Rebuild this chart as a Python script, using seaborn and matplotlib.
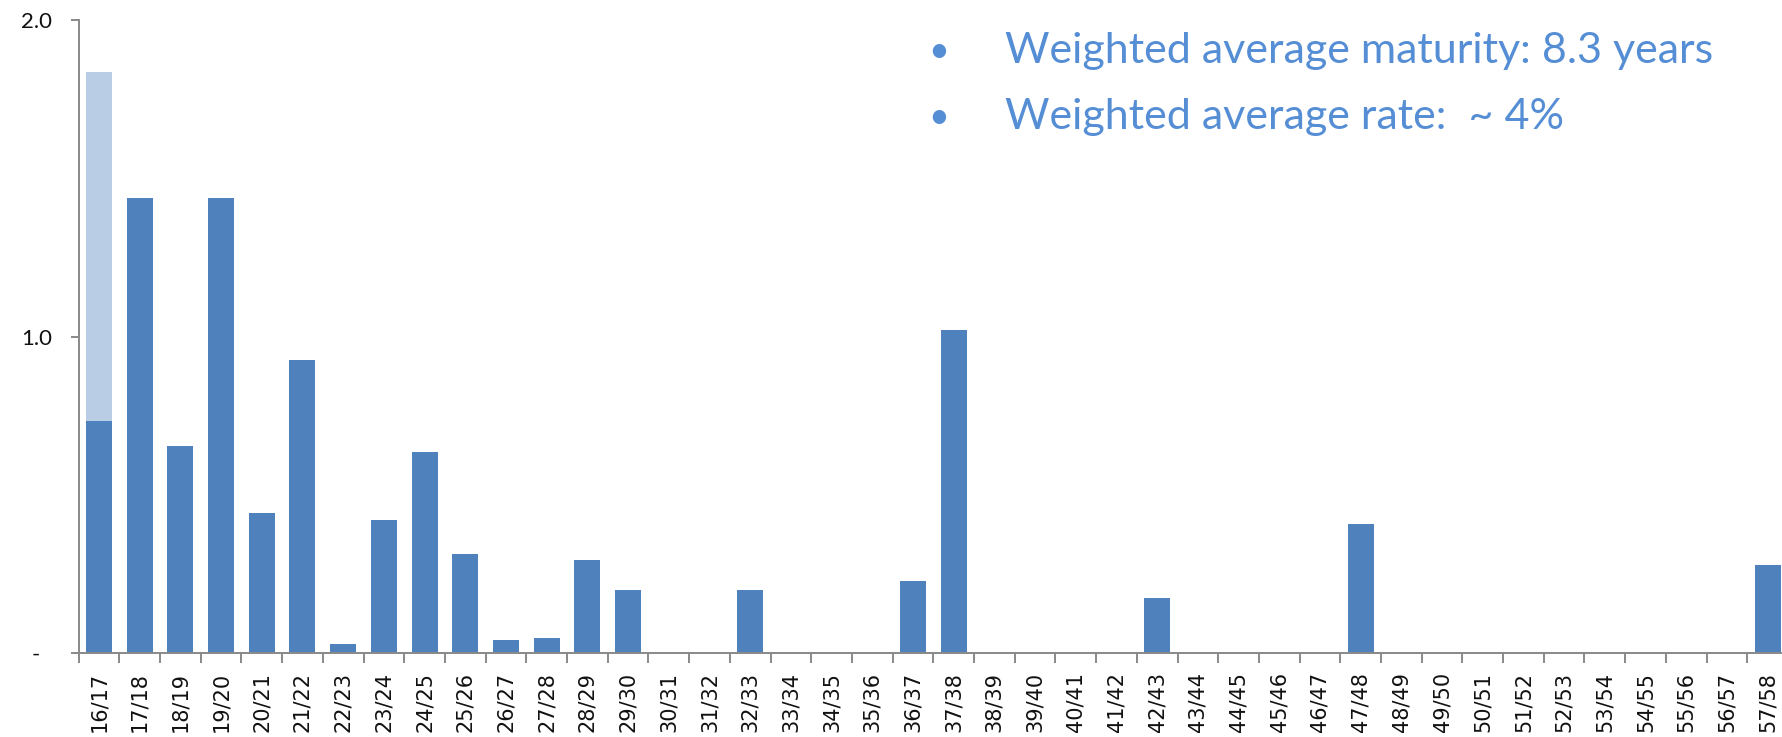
import matplotlib
matplotlib.use("Agg")
import matplotlib.pyplot as plt
import seaborn as sns
import numpy as np
import pandas as pd

# Fiscal years of the debt maturity profile
years = [f"{y:02d}/{y + 1:02d}" for y in range(16, 58)]

# Amount maturing per year (dark series)
maturing = [0.733, 1.438, 0.655, 1.438, 0.442, 0.925, 0.027, 0.42, 0.635, 0.312,
            0.041, 0.046, 0.292, 0.198, 0.0, 0.0, 0.198, 0.0, 0.0, 0.0,
            0.227, 1.022, 0.0, 0.0, 0.0, 0.0, 0.173, 0.0, 0.0, 0.0,
            0.0, 0.407, 0.0, 0.0, 0.0, 0.0, 0.0, 0.0, 0.0, 0.0,
            0.0, 0.277]

# Additional amount stacked on top (light series)
additional = [1.104] + [0.0] * 41

y_ticks = [0.0, 1.0, 2.0]
y_tick_labels = ["-  ", "1.0", "2.0"]

notes = ["Weighted average maturity: 8.3 years",
         "Weighted average rate:  ~ 4%"]

dark_blue = "#4F81BD"
light_blue = "#B9CDE5"
note_blue = "#558ED5"
axis_grey = "#898989"

df = pd.DataFrame({
    "year": years,
    "maturing": maturing,
    "total": np.array(maturing) + np.array(additional),
})

sns.set_style("white")
plt.rcParams["font.family"] = ["DejaVu Sans"]

fig = plt.figure(figsize=(17.83, 7.37), dpi=100)
ax = fig.add_axes([0.0441, 0.1144, 0.9587, 0.8578])

sns.barplot(data=df, x="year", y="total", color=light_blue, width=0.64,
            linewidth=0, saturation=1, ax=ax)
sns.barplot(data=df, x="year", y="maturing", color=dark_blue, width=0.64,
            linewidth=0, saturation=1, ax=ax)

ax.set_xlim(-0.5, len(years) - 0.5)
ax.set_ylim(0, 2.0)
ax.set_xlabel("")
ax.set_ylabel("")

# Y axis
ax.set_yticks(y_ticks)
ax.set_yticklabels(y_tick_labels, fontsize=16, color="#111111", family="Lato")
ax.tick_params(axis="y", which="major", direction="out", length=6,
               width=1.4, color=axis_grey, pad=13, left=True)

# X axis: labels at category centres, tick marks between categories
ax.set_xticks(range(len(years)))
ax.set_xticklabels(years, rotation=90, fontsize=15, color="#111111")
ax.tick_params(axis="x", which="major", length=0, pad=14)
ax.set_xticks(np.arange(-0.5, len(years), 1.0), minor=True)
ax.tick_params(axis="x", which="minor", direction="out", length=7,
               width=1.4, color=axis_grey, bottom=True)

for side in ["top", "right"]:
    ax.spines[side].set_visible(False)
for side in ["left", "bottom"]:
    ax.spines[side].set_color(axis_grey)
    ax.spines[side].set_linewidth(1.4)

# Summary notes in the upper right
for i, note in enumerate(notes):
    ypos = 1 - 51 / 737 - i * (66 / 737)
    fig.text(939 / 1783, ypos, "\u2022", fontsize=26, color=note_blue,
             ha="center", va="center", family="Lato")
    fig.text(1005 / 1783, ypos, note, fontsize=31, color=note_blue,
             ha="left", va="center", family="Lato")

fig.savefig("out.png", dpi=100)
